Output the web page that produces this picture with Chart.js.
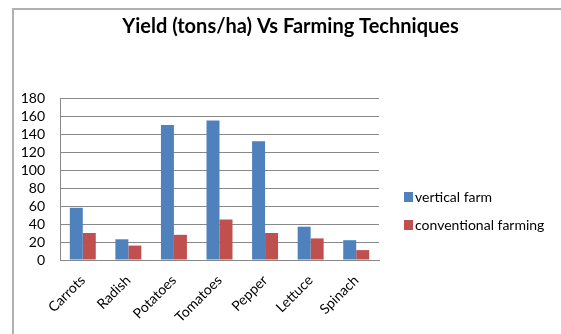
<!DOCTYPE html>
<html>
<head>
<meta charset="utf-8">
<script src="https://cdn.jsdelivr.net/npm/chart.js@4/dist/chart.umd.min.js"></script>
<style>
  body { margin: 0; background: #fff; }
  #wrap { position: relative; width: 561px; height: 334px; }
  #frame { position: absolute; left: 12px; top: 8px; right: 0; bottom: 0;
           border-left: 2px solid #b0b0b0; border-top: 2px solid #b0b0b0; }
  canvas { position: absolute; left: 0; top: 0; }
</style>
</head>
<body>
<div id="wrap">
  <div id="frame"></div>
  <canvas id="myChart" width="561" height="334"></canvas>
</div>
<script>
const crops = ['Carrots', 'Radish', 'Potatoes', 'Tomatoes', 'Pepper', 'Lettuce', 'Spinach'];
const verticalFarm = [58, 23, 150, 155, 132, 37, 22];
const conventionalFarming = [30, 16, 28, 45, 30, 24, 11];
const yTicks = [0, 20, 40, 60, 80, 100, 120, 140, 160, 180];

const fontFamily = 'Lato, "Open Sans", sans-serif';

// legend drawn by hand in the right margin, Excel style
const sideLegend = {
    id: 'sideLegend',
    afterDraw: (chart) => {
        const { ctx } = chart;
        ctx.save();
        ctx.font = '14px ' + fontFamily;
        ctx.textBaseline = 'middle';
        chart.data.datasets.forEach((ds, i) => {
            const y = 197 + i * 28;
            ctx.fillStyle = ds.backgroundColor;
            ctx.fillRect(404, y - 5, 9, 10);
            ctx.fillStyle = '#000';
            ctx.fillText(ds.label, 415, y);
        });
        ctx.restore();
    }
};

const ctx = document.getElementById('myChart').getContext('2d');
const chart = new Chart(ctx, {
    type: 'bar',
    data: {
        labels: crops,
        datasets: [{
            label: 'vertical farm',
            data: verticalFarm,
            backgroundColor: '#4F81BD',
        }, {
            label: 'conventional farming',
            data: conventionalFarming,
            backgroundColor: '#C0504D',
        }]
    },
    options: {
        responsive: false,
        animation: false,
        layout: {
            padding: { left: 20, right: 0, top: 0, bottom: 0 },
        },
        datasets: {
            bar: {
                categoryPercentage: 0.57,
                barPercentage: 1,
            },
        },
        plugins: {
            legend: { display: false },
            tooltip: { enabled: false },
            title: {
                display: true,
                text: 'Yield (tons/ha) Vs Farming Techniques',
                color: '#000',
                font: { family: fontFamily, size: 20, weight: 'bold' },
                padding: { top: 15, bottom: 59 },
            },
        },
        scales: {
            x: {
                grid: { display: false, drawTicks: false },
                border: { color: '#888', width: 1 },
                ticks: {
                    color: '#000',
                    font: { family: fontFamily, size: 14 },
                    maxRotation: 45,
                    minRotation: 45,
                    padding: 12,
                },
                afterFit: (scale) => { scale.height = 74; },
            },
            y: {
                min: 0,
                max: 180,
                afterBuildTicks: (scale) => {
                    scale.ticks = yTicks.map(v => ({ value: v }));
                },
                grid: { color: '#888', drawTicks: false },
                border: { color: '#888', width: 1 },
                ticks: {
                    color: '#000',
                    font: { family: fontFamily, size: 14 },
                    padding: 15,
                    autoSkip: false,
                },
                afterFit: (scale) => { scale.width = 40; },
            },
            // empty right-hand strip that leaves room for the legend
            side: {
                axis: 'y',
                position: 'right',
                display: true,
                grid: { display: false, drawTicks: false },
                border: { display: false },
                ticks: { display: false },
                afterFit: (scale) => { scale.width = 182; },
            },
        },
    },
    plugins: [sideLegend],
});
</script>
</body>
</html>
